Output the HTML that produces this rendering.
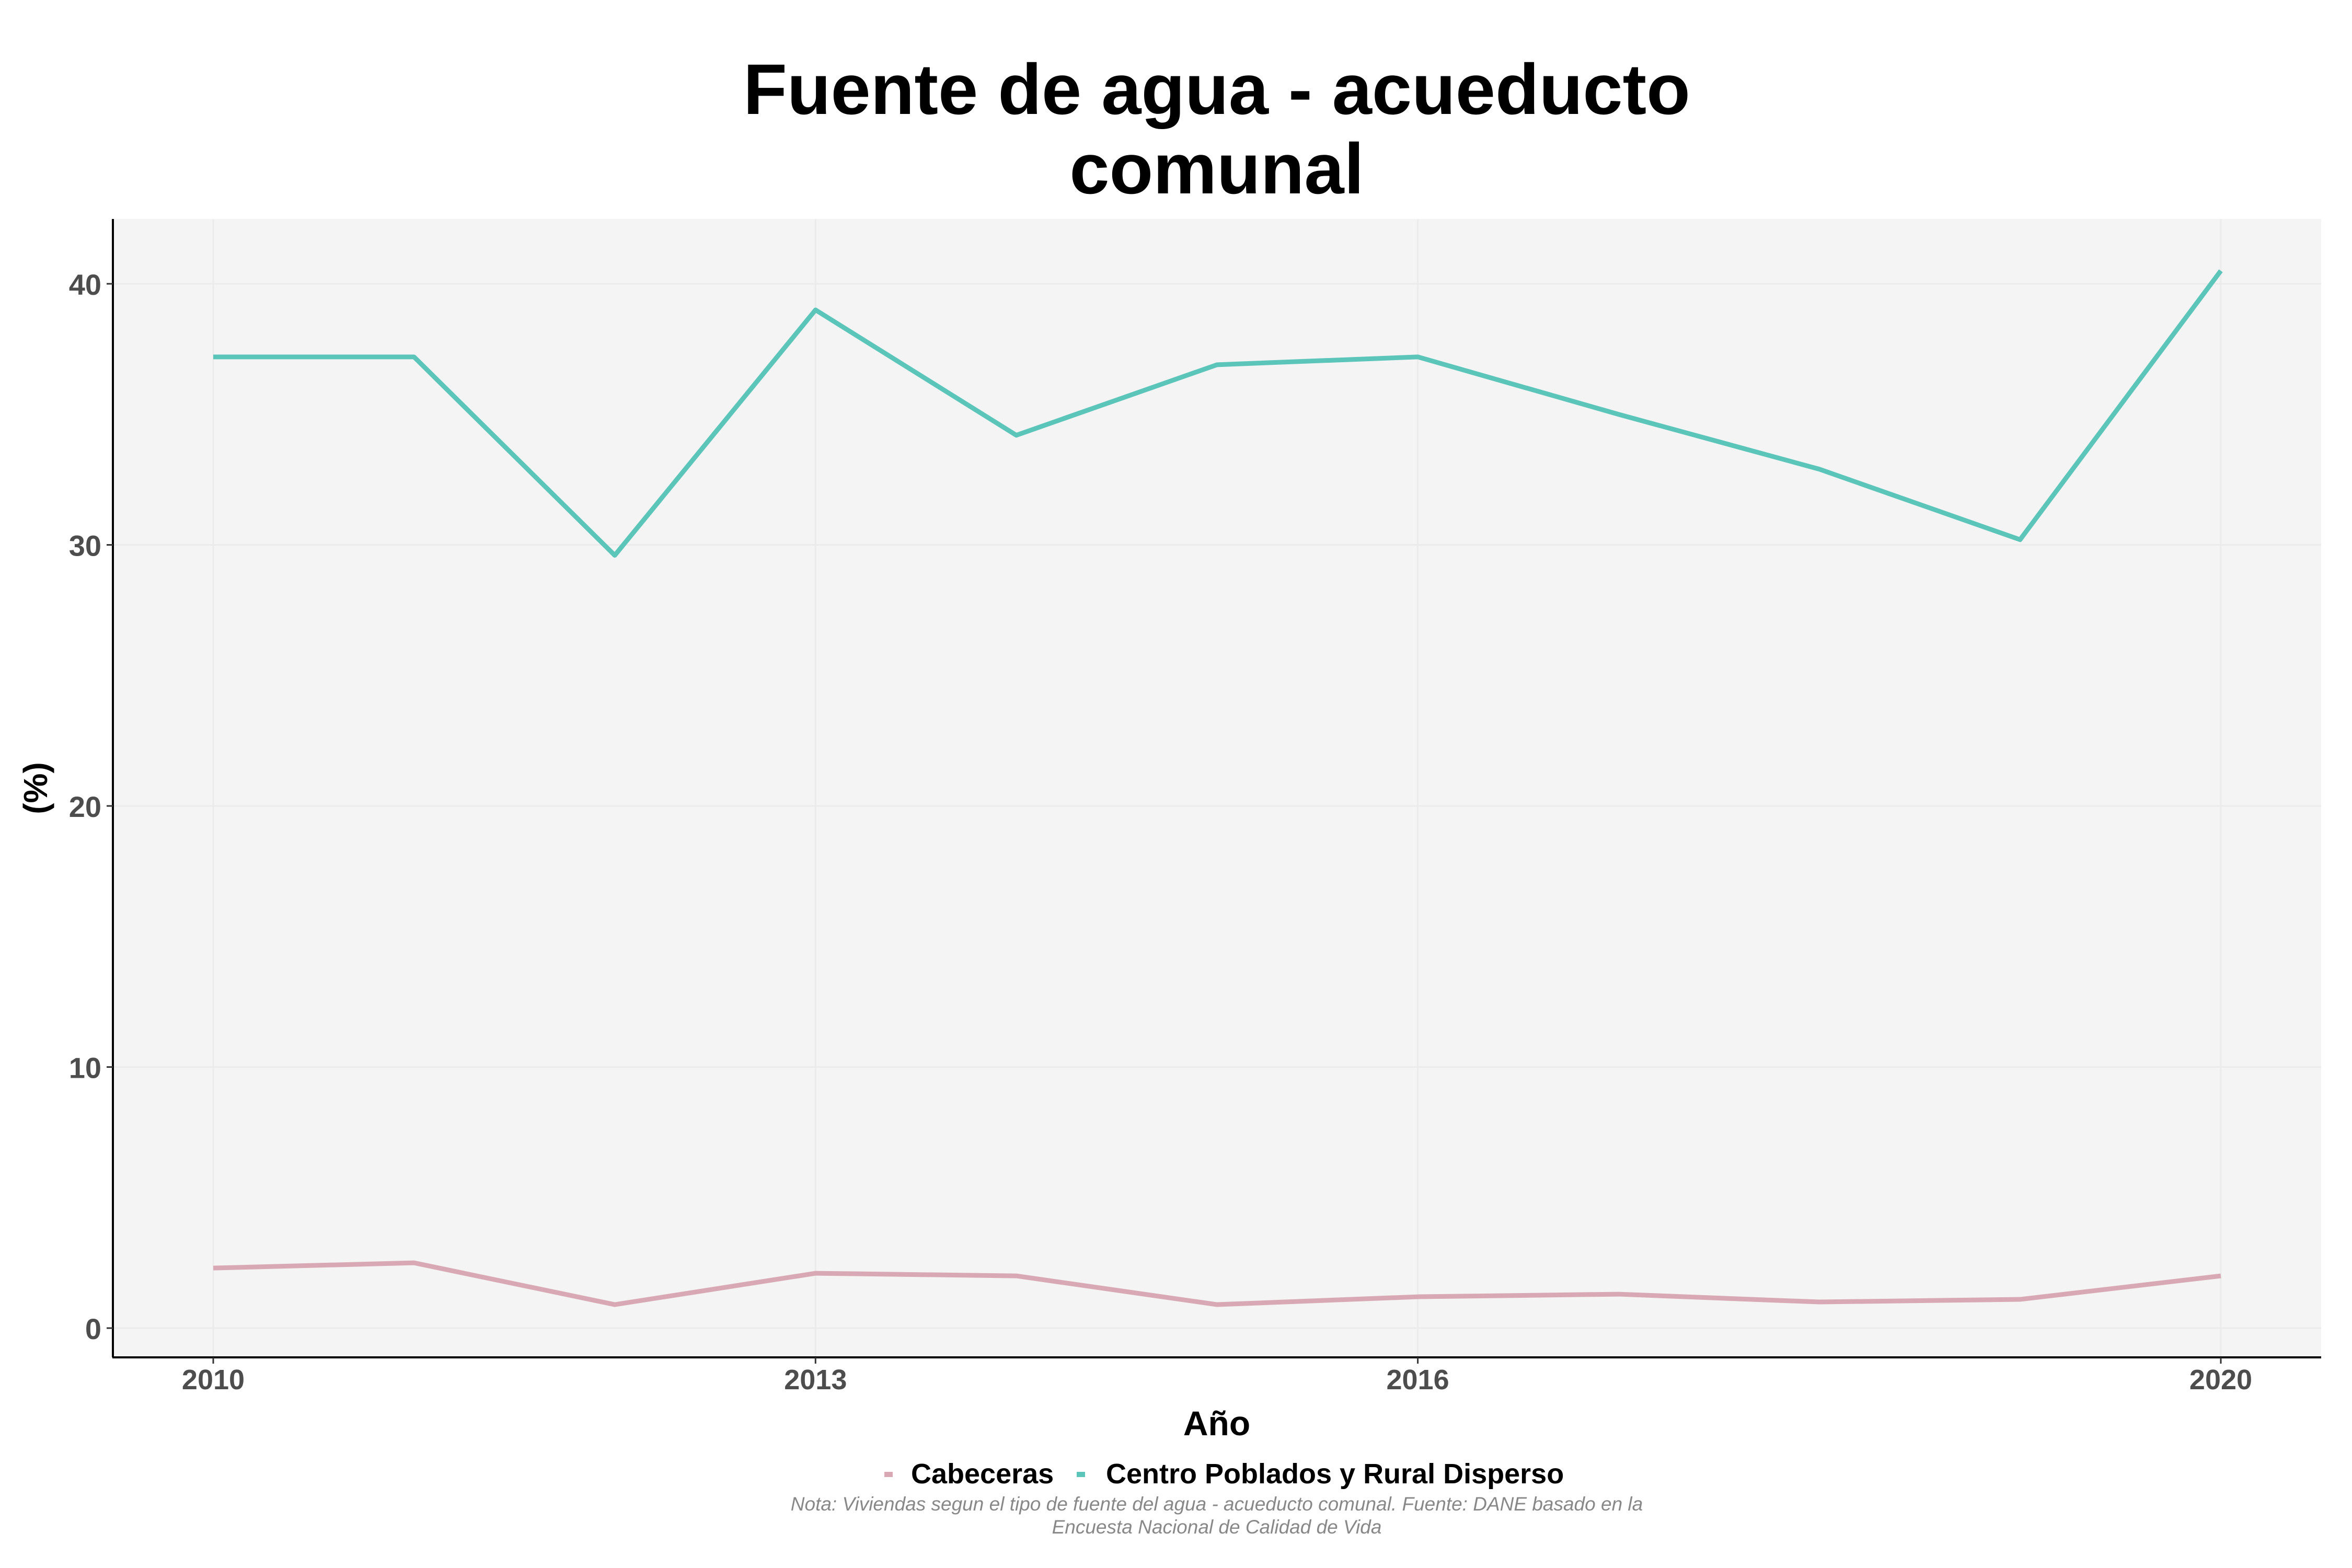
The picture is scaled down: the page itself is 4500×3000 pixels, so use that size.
<!DOCTYPE html>
<html><head><meta charset="utf-8"><style>html,body{margin:0;padding:0;background:#fff}svg{display:block}text{font-family:"Liberation Sans",sans-serif}</style></head>
<body>
<svg id="chart" width="4500" height="3000" viewBox="0 0 4500 3000" xmlns="http://www.w3.org/2000/svg">
<rect width="4500" height="3000" fill="#fff"/>
<text x="2328" y="218" font-size="137" font-weight="bold" text-anchor="middle">Fuente de agua - acueducto</text>
<text x="2328" y="370" font-size="137" font-weight="bold" text-anchor="middle">comunal</text>
<rect x="215" y="419" width="4226" height="2178" fill="#f4f4f4"/>
<g id="grid"></g>
<g id="series"></g>
<line x1="216" y1="419" x2="216" y2="2597" stroke="#000" stroke-width="4"/>
<line x1="215" y1="2597" x2="4441" y2="2597" stroke="#000" stroke-width="4"/>
<g id="ticks"></g>
<text x="2328" y="2746" font-size="66" font-weight="bold" text-anchor="middle">Año</text>
<text transform="translate(90,1508) rotate(-90)" font-size="64" font-weight="bold" text-anchor="middle">(%)</text>
<g>
<rect x="1692" y="2816" width="16" height="10" fill="#D8A8B5"/>
<text x="1743" y="2838" font-size="54" font-weight="bold">Cabeceras</text>
<rect x="2060" y="2816" width="16" height="10" fill="#5BC5BA"/>
<text x="2116" y="2838" font-size="54" font-weight="bold">Centro Poblados y Rural Disperso</text>
</g>
<text x="2328" y="2890" font-size="37" font-style="italic" fill="#888" text-anchor="middle">Nota: Viviendas segun el tipo de fuente del agua - acueducto comunal. Fuente: DANE basado en la</text>
<text x="2328" y="2934" font-size="37" font-style="italic" fill="#888" text-anchor="middle">Encuesta Nacional de Calidad de Vida</text>
</svg>
<script>
const years = [2010,2011,2012,2013,2014,2015,2016,2017,2018,2019,2020];
const cabeceras = [2.3,2.5,0.9,2.1,2.0,0.9,1.2,1.3,1.0,1.1,2.0];
const centroPoblados = [37.2,37.2,29.6,39.0,34.2,36.9,37.2,35.0,32.9,30.2,40.5];
const xTicks = [2010,2013,2016,2020];
const yTicks = [0,10,20,30,40];

const NS = "http://www.w3.org/2000/svg";
const xScale = v => 408 + (v - 2010) * (4249 - 408) / 10;
const yScale = v => 2541 - v * (2541 - 543) / 40;
function mk(tag, attrs, parent) {
  const e = document.createElementNS(NS, tag);
  for (const k in attrs) e.setAttribute(k, attrs[k]);
  parent.appendChild(e);
  return e;
}
const grid = document.getElementById('grid');
const ticks = document.getElementById('ticks');
const series = document.getElementById('series');
yTicks.forEach(t => {
  const g = mk('line', {x1:215, x2:4441, y1:yScale(t), y2:yScale(t), stroke:'#ebebeb', 'stroke-width':3}, grid);
  
  
  const tk = mk('line', {x1:204, x2:216, y1:yScale(t), y2:yScale(t), stroke:'#333', 'stroke-width':3}, ticks);
  
  
  const lb = mk('text', {x:194, y:yScale(t)+21, 'font-size':56, 'font-weight':'bold', fill:'#4d4d4d', 'text-anchor':'end'}, ticks);
  lb.textContent = t;
  
  
});
xTicks.forEach(t => {
  const g = mk('line', {x1:xScale(t), x2:xScale(t), y1:419, y2:2597, stroke:'#ebebeb', 'stroke-width':3}, grid);
  
  
  const tk = mk('line', {x1:xScale(t), x2:xScale(t), y1:2597, y2:2609, stroke:'#333', 'stroke-width':3}, ticks);
  
  
  const lb = mk('text', {x:xScale(t), y:2658, 'font-size':54, 'font-weight':'bold', fill:'#4d4d4d', 'text-anchor':'middle'}, ticks);
  lb.textContent = t;
  
  
});
function drawLine(vals, color, name) {
  const pts = vals.map((v, i) => xScale(years[i]) + ',' + yScale(v)).join(' ');
  const p = mk('polyline', {points:pts, fill:'none', stroke:color, 'stroke-width':9, 'stroke-linejoin':'round', 'stroke-linecap':'butt'}, series);
  
  
}
drawLine(cabeceras, '#D8A8B5', 'line-cabeceras');
drawLine(centroPoblados, '#5BC5BA', 'line-centro-poblados');
</script>
</body></html>
